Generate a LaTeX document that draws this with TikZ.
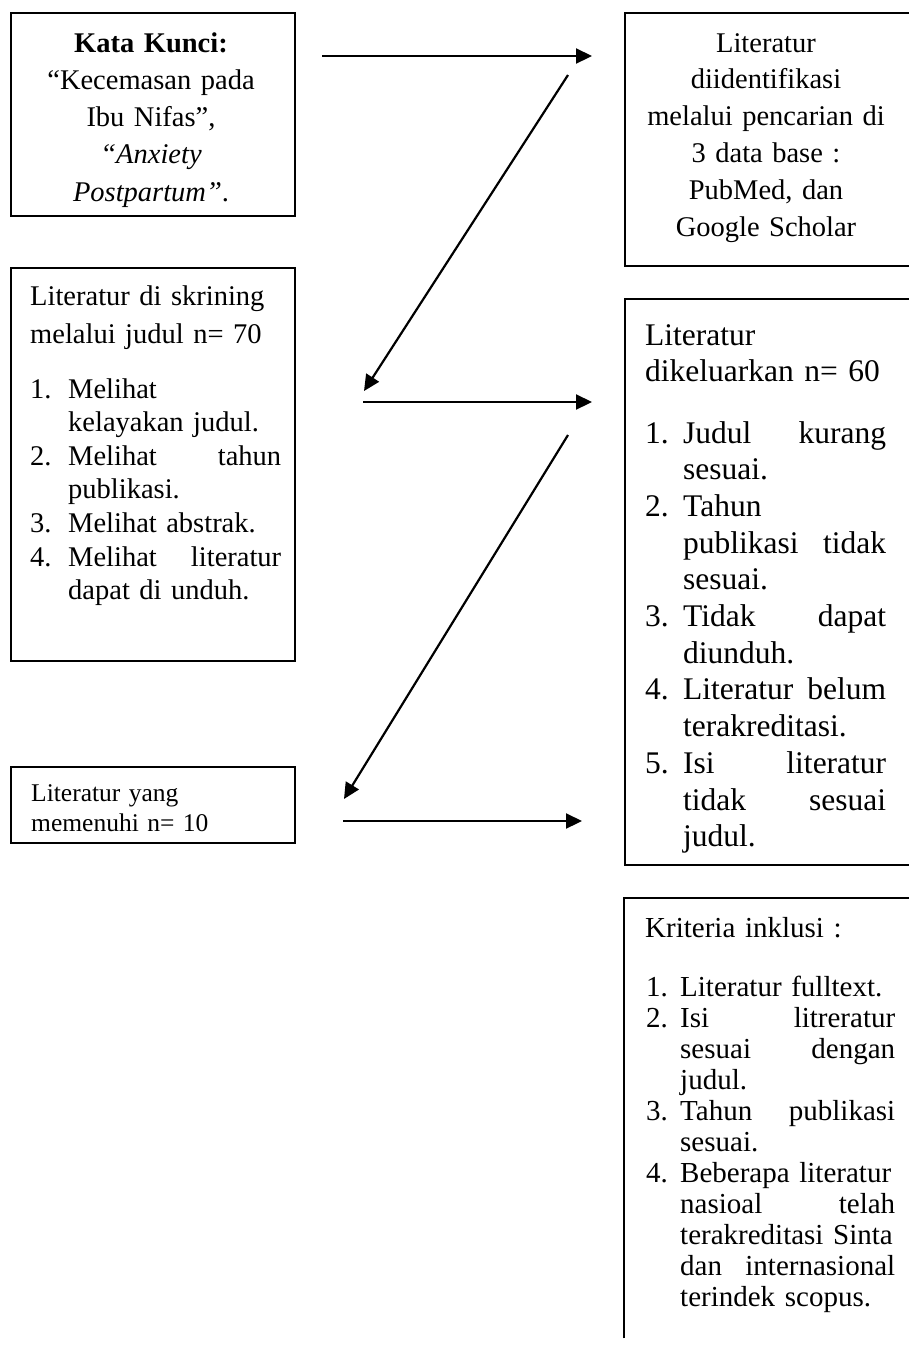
\documentclass[tikz,border=0pt]{standalone}
\usepackage{fontspec}
\setmainfont{Liberation Serif}
\usetikzlibrary{arrows.meta}
\setlength{\parindent}{0pt}
\setlength{\parskip}{0pt}
\newcommand{\itm}[2]{\makebox[#1][l]{#2}}
\begin{document}
\begin{tikzpicture}[x=1pt,y=-1pt,
  box/.style={draw, line width=1.6pt, rectangle, inner sep=0pt, anchor=north west},
  txt/.style={inner sep=0pt, anchor=base west, align=left},
  ctxt/.style={inner sep=0pt, anchor=base, align=center},
  arr/.style={line width=2.2pt, -{Triangle[length=16pt,width=15pt]}},
]
\useasboundingbox (0,0) rectangle (909,1345);

% boxes
\node[box, minimum width=284pt, minimum height=203pt] (kw) at (10,12) {};
\node[box, minimum width=284pt, minimum height=393pt] (scr) at (10,267) {};
\node[box, minimum width=284pt, minimum height=76pt] (inc) at (10,766) {};
\node[box, minimum width=300pt, minimum height=253pt] (idn) at (624,12) {};
\node[box, minimum width=300pt, minimum height=566pt] (exc) at (624,298) {};
\node[inner sep=0pt, minimum width=300pt, minimum height=440pt, anchor=north west] (kri) at (624,898) {};
\draw[line width=1.6pt] (kri.south west) -- (kri.north west) -- (kri.north east);

% texts
\node[ctxt, text width=270pt, font=\fontsize{28.5pt}{37.25pt}\selectfont] (kwt) at (151,52)
  {\textbf{Kata Kunci:}\\“Kecemasan pada\\Ibu Nifas”,\\\textit{“Anxiety}\\\textit{Postpartum”}.};

\node[ctxt, text width=270pt, font=\fontsize{28.5pt}{36.8pt}\selectfont] (idnt) at (766,52)
  {Literatur\\diidentifikasi\\melalui pencarian di\\3 data base :\\PubMed, dan\\Google Scholar};

\node[txt, text width=260pt, font=\fontsize{28.5pt}{38pt}\selectfont] (scrh) at (30,305)
  {Literatur di skrining\\melalui judul n= 70};
\node[txt, text width=251pt, font=\fontsize{28.5pt}{33.6pt}\selectfont] (scrl) at (30,398)
  {\itm{38pt}{1.}Melihat\\
   \hspace*{38pt}kelayakan judul.\\
   \itm{38pt}{2.}Melihat\hfill tahun\\
   \hspace*{38pt}publikasi.\\
   \itm{38pt}{3.}Melihat abstrak.\\
   \itm{38pt}{4.}Melihat\hfill literatur\\
   \hspace*{38pt}dapat di unduh.};

\node[txt, text width=260pt, font=\fontsize{25.5pt}{30pt}\selectfont] (inct) at (31,801)
  {Literatur yang\\memenuhi n= 10};

\node[txt, text width=260pt, font=\fontsize{31.5pt}{36pt}\selectfont] (exch) at (645,345)
  {Literatur\\dikeluarkan n= 60};
\node[txt, text width=241pt, font=\fontsize{31.5pt}{36.7pt}\selectfont] (excl) at (645,443)
  {\itm{38pt}{1.}Judul\hfill kurang\\
   \hspace*{38pt}sesuai.\\
   \itm{38pt}{2.}Tahun\\
   \hspace*{38pt}publikasi\hfill tidak\\
   \hspace*{38pt}sesuai.\\
   \itm{38pt}{3.}Tidak\hfill dapat\\
   \hspace*{38pt}diunduh.\\
   \itm{38pt}{4.}Literatur\hfill belum\\
   \hspace*{38pt}terakreditasi.\\
   \itm{38pt}{5.}Isi\hfill literatur\\
   \hspace*{38pt}tidak\hfill sesuai\\
   \hspace*{38pt}judul.};

\node[txt, text width=260pt, font=\fontsize{29pt}{32pt}\selectfont] (krih) at (645,937)
  {Kriteria inklusi :};
\node[txt, text width=249pt, font=\fontsize{29pt}{31pt}\selectfont] (kril) at (646,996)
  {\itm{34pt}{1.}Literatur fulltext.\\
   \itm{34pt}{2.}Isi\hfill litreratur\\
   \hspace*{34pt}sesuai\hfill dengan\\
   \hspace*{34pt}judul.\\
   \itm{34pt}{3.}Tahun\hfill publikasi\\
   \hspace*{34pt}sesuai.\\
   \itm{34pt}{4.}Beberapa literatur\\
   \hspace*{34pt}nasioal\hfill telah\\
   \hspace*{34pt}terakreditasi Sinta\\
   \hspace*{34pt}dan\hfill internasional\\
   \hspace*{34pt}terindek scopus.};

% arrows
\coordinate (a1s) at (322,56);  \coordinate (a1e) at (592,56);
\coordinate (d1s) at (568,75);  \coordinate (d1e) at (364,391);
\coordinate (a2s) at (363,402); \coordinate (a2e) at (592,402);
\coordinate (d2s) at (568,435); \coordinate (d2e) at (344,799);
\coordinate (a3s) at (343,821); \coordinate (a3e) at (582,821);
\draw[arr] (a1s) -- (a1e);
\draw[arr] (d1s) -- (d1e);
\draw[arr] (a2s) -- (a2e);
\draw[arr] (d2s) -- (d2e);
\draw[arr] (a3s) -- (a3e);
\end{tikzpicture}
\end{document}
